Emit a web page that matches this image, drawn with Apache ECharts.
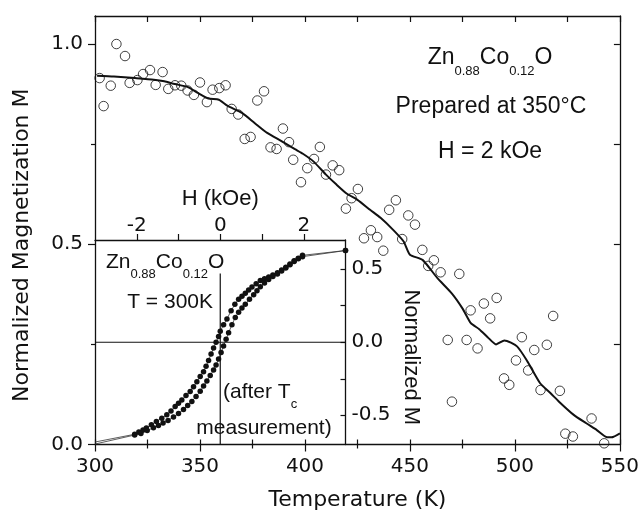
<!DOCTYPE html>
<html>
<head>
<meta charset="utf-8">
<script src="https://cdn.jsdelivr.net/npm/echarts@6/dist/echarts.min.js"></script>
<style>html,body{margin:0;padding:0;background:#fff}#c{width:642px;height:523px}</style>
</head>
<body>
<div id="c"></div>
<script>
// ---- main plot: M(T) open circles ----
const tempK = [302.2,304.1,307.5,310.2,314.3,316.5,320.2,322.9,326.2,328.9,332.2,334.9,338.1,341.1,344.1,347.1,350.0,353.3,356.0,359.2,362.2,365.1,368.2,371.3,374.1,377.3,380.5,383.6,386.5,389.5,392.4,394.4,398.1,401.1,404.3,407.1,410.0,413.2,416.3,419.5,422.2,425.2,428.1,431.4,434.4,437.3,440.1,443.3,446.3,449.2,452.4,455.9,458.7,461.4,464.6,468.0,470.0,473.5,477.0,478.9,482.2,485.2,488.2,491.3,494.8,497.3,500.5,503.3,506.3,509.2,512.2,515.2,518.2,521.4,524.0,527.6,536.5,542.5];
const magM = [0.915,0.845,0.896,1.0,0.97,0.903,0.91,0.925,0.935,0.898,0.93,0.888,0.897,0.896,0.884,0.873,0.904,0.855,0.886,0.89,0.897,0.838,0.824,0.763,0.768,0.859,0.882,0.742,0.738,0.789,0.755,0.711,0.655,0.69,0.713,0.743,0.674,0.697,0.685,0.589,0.615,0.638,0.515,0.535,0.518,0.484,0.586,0.61,0.513,0.572,0.549,0.486,0.446,0.46,0.43,0.261,0.107,0.426,0.261,0.335,0.24,0.352,0.315,0.366,0.165,0.149,0.21,0.268,0.185,0.236,0.136,0.249,0.321,0.134,0.027,0.02,0.065,0.003];
// ---- main plot: smoothed curve ----
const curveK = [301,309,319,328,333,338,344,349,354,359,363,370,376,382,389,395,399,404,410,415,420,425,431,436,442,447,450,456,463,470,475,479,483,487,491,495,501,506,512,517,521,528,534,539,544,546,550];
const curveM = [0.921,0.919,0.915,0.911,0.907,0.900,0.893,0.878,0.864,0.861,0.846,0.828,0.803,0.778,0.757,0.738,0.726,0.707,0.674,0.649,0.626,0.611,0.586,0.566,0.536,0.507,0.474,0.461,0.416,0.377,0.340,0.303,0.288,0.268,0.250,0.260,0.245,0.207,0.153,0.128,0.107,0.074,0.053,0.036,0.018,0.018,0.028];
// ---- inset: hysteresis loop, field-decreasing (upper) branch ----
const upperH = [-3.0,-2.05,-1.95,-1.85,-1.77,-1.65,-1.53,-1.4,-1.28,-1.18,-1.08,-1.0,-0.92,-0.82,-0.72,-0.64,-0.56,-0.48,-0.4,-0.34,-0.28,-0.22,-0.16,-0.1,-0.04,0.0,0.08,0.16,0.26,0.35,0.44,0.52,0.6,0.68,0.76,0.86,0.96,1.06,1.16,1.26,1.37,1.47,1.57,1.67,1.77,1.87,1.97,3.0];
const upperM = [-0.683,-0.63,-0.615,-0.6,-0.587,-0.565,-0.542,-0.52,-0.497,-0.47,-0.44,-0.418,-0.395,-0.365,-0.338,-0.305,-0.27,-0.235,-0.202,-0.165,-0.125,-0.08,-0.04,0.0,0.04,0.075,0.12,0.16,0.215,0.26,0.295,0.315,0.335,0.357,0.378,0.40,0.422,0.435,0.447,0.461,0.476,0.494,0.513,0.535,0.558,0.575,0.595,0.628];
// ---- inset: field-increasing (lower) branch ----
const lowerH = [-3.0,-2.05,-1.9,-1.75,-1.6,-1.48,-1.37,-1.25,-1.12,-1.0,-0.88,-0.78,-0.68,-0.58,-0.48,-0.4,-0.32,-0.24,-0.16,-0.1,-0.04,0.02,0.08,0.14,0.2,0.28,0.36,0.44,0.52,0.6,0.7,0.8,0.88,0.96,1.06,1.16,1.26,1.37,1.47,1.57,1.67,1.77,1.87,1.97,3.0];
const lowerM = [-0.697,-0.635,-0.625,-0.605,-0.585,-0.57,-0.553,-0.535,-0.512,-0.488,-0.46,-0.433,-0.405,-0.372,-0.335,-0.3,-0.265,-0.228,-0.19,-0.155,-0.115,-0.07,-0.025,0.02,0.065,0.12,0.17,0.205,0.235,0.26,0.295,0.325,0.352,0.38,0.405,0.43,0.45,0.468,0.488,0.508,0.53,0.553,0.571,0.586,0.628];
// inset reference lines
const zeroLineH = [-3, 3];
const zeroLineM = [0, 0];
const vertLineH = [0, 0];
const vertLineM = [0.47, -0.7];
// tick labels
const mainXTicks = [300, 350, 400, 450, 500, 550];
const mainYTicks = [0, 0.5, 1.0];
const mainYMinor = [0.25, 0.75];
const insetHTicks = [-2, 0, 2];
const insetHAll = [-2, -1, 0, 1, 2];
const insetMTicks = [-0.5, 0, 0.5];
const insetMAll = [-0.5, -0.25, 0, 0.25, 0.5];

const INK = '#111';
const DV = 'DejaVu Sans';
const AR = 'Liberation Sans';

const chart = echarts.init(document.getElementById('c'), null, {renderer:'canvas'});
chart.setOption({
  animation: false,
  backgroundColor: '#fff',
  grid: [
    {left: 95, top: 16, width: 525, height: 428.5},
    {left: 95, top: 240, width: 250.5, height: 204.5}
  ],
  xAxis: [
    { // 0 main bottom
      gridIndex: 0, type: 'value', position: 'bottom', min: 300, max: 550, interval: 50,
      axisLine: {show: true, onZero: false, lineStyle: {color: INK, width: 1.3}},
      axisTick: {show: true, inside: false, length: 7, lineStyle: {color: INK, width: 1.2}},
      minorTick: {show: true, splitNumber: 2, length: 4, lineStyle: {color: INK, width: 1.2}},
      axisLabel: {fontFamily: DV, fontSize: 20, color: INK, margin: 12, customValues: mainXTicks},
      splitLine: {show: false},
      name: 'Temperature (K)', nameLocation: 'middle', nameGap: 45,
      nameTextStyle: {fontFamily: DV, fontSize: 22, color: INK}
    },
    { // 1 main top (mirror ticks)
      gridIndex: 0, type: 'value', position: 'top', min: 300, max: 550, interval: 25,
      axisLine: {show: true, onZero: false, lineStyle: {color: INK, width: 1.3}},
      axisTick: {show: true, inside: true, length: 6, lineStyle: {color: INK, width: 1.2}},
      axisLabel: {show: false}, splitLine: {show: false}
    },
    { // 2 main bottom inward ticks
      gridIndex: 0, type: 'value', position: 'bottom', min: 300, max: 550, interval: 25,
      axisLine: {show: false, onZero: false},
      axisTick: {show: true, inside: true, length: 5, lineStyle: {color: INK, width: 1.2}},
      axisLabel: {show: false}, splitLine: {show: false}
    },
    { // 3 inset H axis (top)
      gridIndex: 1, type: 'value', position: 'top', min: -3, max: 3, interval: 1,
      axisLine: {show: true, onZero: false, lineStyle: {color: INK, width: 1.3}},
      axisTick: {show: true, inside: false, length: 6, customValues: insetHAll, lineStyle: {color: INK, width: 1.2}},
      axisLabel: {fontFamily: DV, fontSize: 20, color: INK, margin: 4, customValues: insetHTicks},
      splitLine: {show: false},
      name: 'H (kOe)', nameLocation: 'middle', nameGap: 30,
      nameTextStyle: {fontFamily: AR, fontSize: 22, color: INK}
    }
  ],
  yAxis: [
    { // 0 main left
      gridIndex: 0, type: 'value', position: 'left', min: 0, max: 1.07,
      axisLine: {show: true, onZero: false, lineStyle: {color: INK, width: 1.3}},
      axisTick: {show: true, inside: false, length: 7, customValues: mainYTicks, lineStyle: {color: INK, width: 1.2}},
      axisLabel: {fontFamily: DV, fontSize: 20, color: INK, margin: 12, customValues: mainYTicks,
        formatter: v => v.toFixed(1)},
      splitLine: {show: false},
      name: 'Normalized Magnetization M', nameLocation: 'middle', nameGap: 62,
      nameTextStyle: {fontFamily: DV, fontSize: 22, color: INK, padding: [0, 30, 0, 0]}
    },
    { // 1 main left minor ticks
      gridIndex: 0, type: 'value', position: 'left', min: 0, max: 1.07,
      axisLine: {show: false, onZero: false},
      axisTick: {show: true, inside: false, length: 4, customValues: mainYMinor, lineStyle: {color: INK, width: 1.2}},
      axisLabel: {show: false}, splitLine: {show: false}
    },
    { // 2 main right (mirror ticks)
      gridIndex: 0, type: 'value', position: 'right', min: 0, max: 1.07,
      axisLine: {show: true, onZero: false, lineStyle: {color: INK, width: 1.3}},
      axisTick: {show: true, inside: true, length: 6, customValues: [0.25, 0.5, 0.75, 1.0], lineStyle: {color: INK, width: 1.2}},
      axisLabel: {show: false}, splitLine: {show: false}
    },
    { // 3 inset M axis (right)
      gridIndex: 1, type: 'value', position: 'right', min: -0.7, max: 0.7,
      axisLine: {show: true, onZero: false, lineStyle: {color: INK, width: 1.3}},
      axisTick: {show: true, inside: true, length: 5, customValues: insetMAll, lineStyle: {color: INK, width: 1.2}},
      axisLabel: {fontFamily: DV, fontSize: 20, color: INK, margin: 6, customValues: insetMTicks,
        formatter: v => v.toFixed(1)},
      splitLine: {show: false},
      name: 'Normalized M', nameLocation: 'middle', nameGap: 55, nameRotate: -90,
      nameTextStyle: {fontFamily: AR, fontSize: 22, color: INK, padding: [0, 0, 0, 30]}
    }
  ],
  series: [
    {
      type: 'scatter', xAxisIndex: 0, yAxisIndex: 0, z: 3,
      data: tempK.map((t, i) => [t, magM[i]]),
      symbol: 'circle', symbolSize: 9.5,
      itemStyle: {color: 'rgba(255,255,255,0)', borderColor: INK, borderWidth: 1}
    },
    {
      type: 'line', xAxisIndex: 0, yAxisIndex: 0, z: 4,
      data: curveK.map((t, i) => [t, curveM[i]]),
      showSymbol: false, symbol: 'none', smooth: 0.2,
      lineStyle: {color: INK, width: 2}
    },
    {
      type: 'line', xAxisIndex: 3, yAxisIndex: 3, z: 2,
      data: zeroLineH.map((h, i) => [h, zeroLineM[i]]),
      symbol: 'none', lineStyle: {color: INK, width: 1.2}
    },
    {
      type: 'line', xAxisIndex: 3, yAxisIndex: 3, z: 2,
      data: vertLineH.map((h, i) => [h, vertLineM[i]]),
      symbol: 'none', lineStyle: {color: INK, width: 1.2}
    },
    {
      type: 'line', xAxisIndex: 3, yAxisIndex: 3, z: 5,
      data: upperH.map((h, i) => (i === 0 ? {value: [h, upperM[i]], symbol: 'none'} : [h, upperM[i]])),
      symbol: 'circle', symbolSize: 5.5, showAllSymbol: true,
      itemStyle: {color: INK}, lineStyle: {color: '#333', width: 0.8}
    },
    {
      type: 'line', xAxisIndex: 3, yAxisIndex: 3, z: 5,
      data: lowerH.map((h, i) => (i === 0 ? {value: [h, lowerM[i]], symbol: 'none'} : [h, lowerM[i]])),
      symbol: 'circle', symbolSize: 5.5, showAllSymbol: true,
      itemStyle: {color: INK}, lineStyle: {color: '#333', width: 0.8}
    }
  ],
  graphic: [
    {type: 'text', x: 490, y: 58, z: 10, style: {
      text: '{n|Zn}{s|0.88}{n|Co}{s|0.12}{n|O}', align: 'center', verticalAlign: 'middle', fill: INK,
      rich: {n: {fontFamily: AR, fontSize: 23, lineHeight: 26, fill: INK},
             s: {fontFamily: AR, fontSize: 13, lineHeight: 14, padding: [26, 0, 0, 0], fill: INK}}}},
    {type: 'text', x: 491, y: 107, z: 10, style: {
      text: 'Prepared at 350°C', align: 'center', verticalAlign: 'middle', fill: INK,
      font: '23px "Liberation Sans"'}},
    {type: 'text', x: 490, y: 152, z: 10, style: {
      text: 'H = 2 kOe', align: 'center', verticalAlign: 'middle', fill: INK,
      font: '23px "Liberation Sans"'}},
    {type: 'text', x: 106, y: 262, z: 10, style: {
      text: '{n|Zn}{s|0.88}{n|Co}{s|0.12}{n|O}', align: 'left', verticalAlign: 'middle', fill: INK,
      rich: {n: {fontFamily: AR, fontSize: 21, lineHeight: 24, fill: INK},
             s: {fontFamily: AR, fontSize: 13, lineHeight: 14, padding: [24, 0, 0, 0], fill: INK}}}},
    {type: 'text', x: 213, y: 302, z: 10, style: {
      text: 'T = 300K', align: 'right', verticalAlign: 'middle', fill: INK,
      font: '21px "Liberation Sans"'}},
    {type: 'text', x: 223, y: 392, z: 10, style: {
      text: '{n|(after T}{s|c}', align: 'left', verticalAlign: 'middle', fill: INK,
      rich: {n: {fontFamily: AR, fontSize: 21, lineHeight: 24, fill: INK},
             s: {fontFamily: AR, fontSize: 13, lineHeight: 14, padding: [24, 0, 0, 0], fill: INK}}}},
    {type: 'text', x: 264, y: 428, z: 10, style: {
      text: 'measurement)', align: 'center', verticalAlign: 'middle', fill: INK,
      font: '21px "Liberation Sans"'}}
  ]
});
</script>
</body>
</html>
